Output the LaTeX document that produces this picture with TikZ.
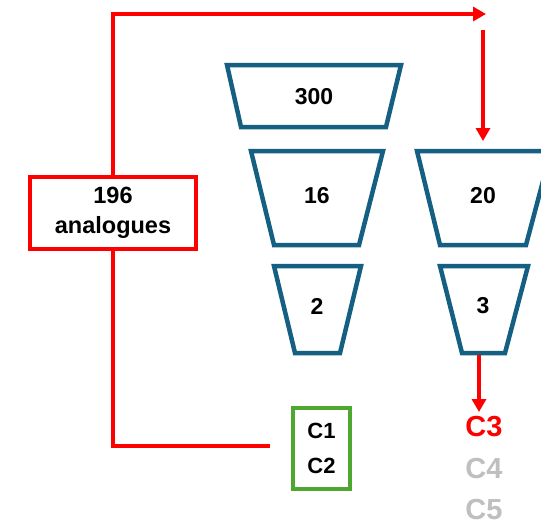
\documentclass[tikz,border=0pt]{standalone}
\usepackage{fontspec}
\setmainfont{Liberation Sans}
\usetikzlibrary{arrows.meta}

\definecolor{flowred}{HTML}{FF0000}
\definecolor{funnelblue}{HTML}{156082}
\definecolor{keepgreen}{HTML}{4EA72E}
\definecolor{dimgray}{HTML}{BFBFBF}

\tikzset{
  lbl/.style={font=\fontsize{23}{25}\selectfont\bfseries, inner sep=0pt},
  biglbl/.style={font=\fontsize{29}{31}\selectfont\bfseries, inner sep=0pt},
  funnel/.style={draw=funnelblue, line width=4.5pt, line join=miter},
  flow/.style={draw=flowred, line width=3.8pt},
  flowarrow/.style={flow, -{Triangle[length=13pt,width=14pt]}},
}

\begin{document}
\begin{tikzpicture}[x=1pt, y=-1pt]
  \useasboundingbox (0,0) rectangle (541,520);
  \fill[white] (0,0) rectangle (541,520);

  % source box
  \node[draw=flowred, line width=3.8pt, minimum width=166pt, minimum height=72pt,
        align=center, font=\fontsize{23.5}{30}\selectfont\bfseries]
        (src) at (113,213) {196\\analogues};

  % funnel stages, left column
  \draw[funnel] (227,65) -- (401,65) -- (386,127) -- (241,127) -- cycle;
  \node[lbl] (n300) at (314,97) {300};
  \draw[funnel] (251,151) -- (383,151) -- (359,245) -- (274,245) -- cycle;
  \node[lbl] (n16) at (317,196) {16};
  \draw[funnel] (274,266) -- (361,266) -- (340,353) -- (295,353) -- cycle;
  \node[lbl] (n2) at (317,306) {2};

  % funnel stages, right column
  \draw[funnel] (417,151) -- (551,151) -- (526,245) -- (440,245) -- cycle;
  \node[lbl] (n20) at (483,196) {20};
  \draw[funnel] (440,266) -- (528,266) -- (505,353) -- (462,353) -- cycle;
  \node[lbl] (n3) at (483,306) {3};

  % kept compounds
  \node[draw=keepgreen, line width=4pt, minimum width=57pt, minimum height=81pt,
        align=center, font=\fontsize{22}{35}\selectfont\bfseries]
        (keep) at (321.5,448.5) {C1\\C2};

  % outcomes of the second screen
  \node[biglbl, text=flowred] (c3) at (484,427) {C3};
  \node[biglbl, text=dimgray] (c4) at (484,469) {C4};
  \node[biglbl, text=dimgray] (c5) at (484,510) {C5};

  % connector end points
  \coordinate (topend) at (486,14);
  \coordinate (dropstart) at (483,30);
  \coordinate (dropend) at (483,141);
  \coordinate (leftend) at (270,446);
  \coordinate (t3out) at (479,355);
  \coordinate (c3in) at (479,412);

  % connectors
  \draw[flowarrow] (src.north) |- (topend);
  \draw[flowarrow] (dropstart) -- (dropend);
  \draw[flow] (src.south) |- (leftend);
  \draw[flowarrow] (t3out) -- (c3in);
\end{tikzpicture}
\end{document}
